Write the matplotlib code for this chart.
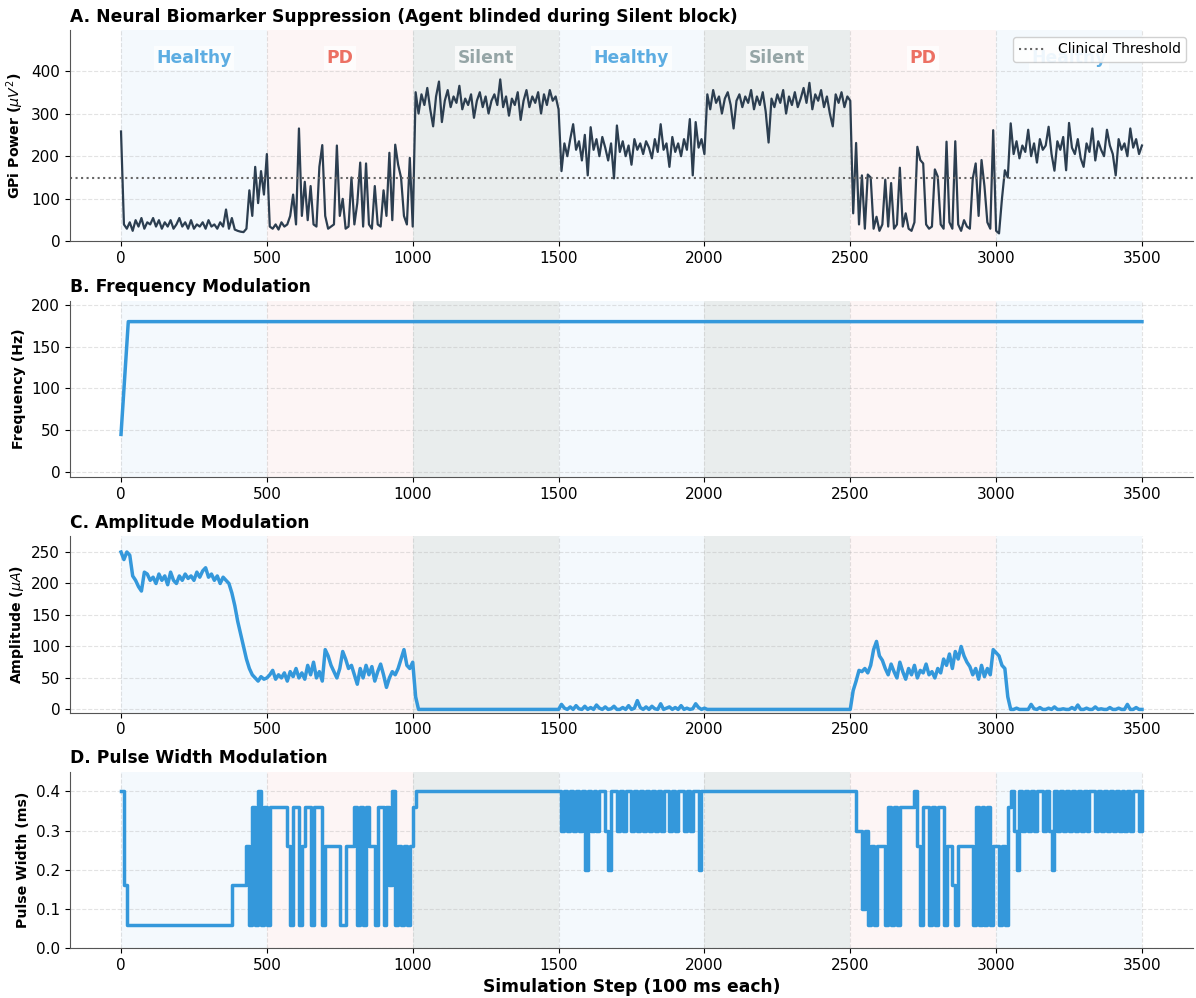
import numpy as np
import matplotlib
matplotlib.use('Agg')
from matplotlib import pyplot as plt

# blocks of the simulation (500 steps each)
block_names = ['Healthy', 'PD', 'Silent', 'Healthy', 'Silent', 'PD', 'Healthy']
block_edges = [0, 500, 1000, 1500, 2000, 2500, 3000, 3500]

# GPi power, read every 10 steps
gpi_b0 = [258, 40, 30, 45, 25, 50, 35, 55, 30, 45, 40, 55, 35, 50, 30, 45, 35, 50, 30, 40,
          55, 35, 45, 30, 50, 30, 40, 35, 45, 30, 50, 35, 40, 30, 45, 35, 75, 30, 55, 28,
          25, 23, 22, 30, 120, 60, 175, 90, 165, 110, 205]
gpi_b1 = [35, 30, 40, 28, 45, 35, 40, 60, 110, 40, 265, 60, 140, 50, 130, 40, 35, 175, 226, 60,
          30, 35, 40, 225, 60, 100, 30, 35, 150, 40, 90, 185, 35, 183, 40, 30, 130, 40, 35, 120,
          60, 208, 50, 227, 180, 150, 60, 40, 196, 35]
gpi_b2 = [350, 300, 345, 320, 360, 310, 270, 340, 375, 280, 330, 355, 315, 340, 325, 365, 310, 335, 320, 345,
          290, 330, 350, 315, 340, 300, 330, 345, 320, 380, 315, 340, 295, 335, 320, 350, 285, 330, 355, 315,
          340, 325, 350, 300, 345, 320, 355, 330, 340, 310]
gpi_b3 = [165, 230, 200, 240, 275, 215, 235, 190, 250, 155, 268, 215, 240, 200, 245, 220, 190, 230, 148, 272,
          210, 235, 200, 225, 180, 240, 215, 230, 205, 235, 220, 195, 240, 210, 275, 215, 230, 175, 245, 210,
          230, 200, 240, 215, 287, 155, 280, 220, 240, 205]
gpi_b4 = [345, 310, 355, 325, 340, 300, 335, 350, 320, 265, 330, 345, 315, 340, 325, 355, 310, 340, 320, 350,
          305, 232, 335, 315, 345, 325, 355, 300, 340, 320, 350, 315, 335, 360, 325, 372, 310, 345, 330, 355,
          315, 340, 300, 270, 345, 325, 350, 315, 340, 330]
gpi_b5 = [66, 231, 40, 155, 30, 157, 150, 30, 58, 25, 40, 145, 35, 137, 30, 40, 173, 35, 66, 30,
          25, 45, 222, 191, 183, 40, 30, 35, 169, 152, 40, 30, 234, 45, 30, 235, 40, 25, 50, 35,
          30, 148, 183, 60, 191, 130, 45, 30, 261, 25]
gpi_b6 = [19, 100, 167, 150, 277, 205, 235, 195, 225, 210, 262, 200, 230, 185, 240, 215, 225, 269, 205, 166,
          235, 215, 245, 167, 278, 220, 205, 240, 195, 175, 230, 210, 265, 190, 235, 215, 200, 262, 225, 205,
          155, 240, 215, 230, 200, 265, 220, 240, 205, 225]
gpi_power = gpi_b0 + gpi_b1 + gpi_b2 + gpi_b3 + gpi_b4 + gpi_b5 + gpi_b6
threshold = 150

# frequency (Hz)
freq_steps = [0, 25, 3500]
freq_hz = [45, 180, 180]

# amplitude (uA), every 10 steps
amp_b0 = [250, 238, 250, 245, 212, 205, 195, 188, 218, 215, 205, 210, 200, 215, 205, 212, 198, 218, 205, 200,
          212, 205, 215, 208, 212, 205, 218, 210, 220, 225, 210, 215, 205, 212, 200, 210, 205, 200, 185, 165,
          140, 120, 100, 80, 65, 55, 50, 45, 52, 48, 50]
amp_b1 = [55, 62, 48, 55, 50, 58, 45, 60, 52, 65, 50, 58, 48, 70, 55, 75, 50, 60, 45, 95,
          85, 70, 60, 50, 65, 92, 80, 65, 70, 55, 40, 65, 50, 70, 55, 68, 45, 60, 72, 55,
          35, 50, 60, 55, 65, 80, 95, 70, 65, 75]
amp_b2 = [20] + [0] * 49
amp_b3 = [8, 2, 0, 4, 0, 6, 1, 0, 5, 0, 3, 0, 7, 2, 0, 4, 0, 1, 5, 0,
          0, 3, 0, 6, 0, 2, 14, 3, 0, 4, 0, 5, 1, 0, 9, 0, 2, 4, 0, 3,
          0, 6, 0, 2, 0, 1, 9, 3, 0, 2]
amp_b4 = [0] * 50
amp_b5 = [30, 45, 62, 60, 65, 58, 70, 95, 108, 85, 78, 65, 55, 72, 60, 50, 75, 60, 48, 65,
          55, 70, 50, 62, 58, 72, 55, 60, 50, 65, 58, 80, 70, 88, 65, 92, 80, 100, 85, 75,
          68, 55, 65, 48, 70, 52, 65, 55, 95, 90]
amp_b6 = [85, 70, 65, 20, 0, 0, 2, 0, 0, 0, 0, 8, 1, 0, 3, 0, 0, 2, 0, 4,
          0, 0, 1, 0, 0, 3, 0, 7, 0, 0, 2, 0, 0, 4, 0, 1, 0, 0, 3, 0,
          0, 2, 0, 0, 8, 0, 0, 3, 0, 0]
amplitude = amp_b0 + amp_b1 + amp_b2 + amp_b3 + amp_b4 + amp_b5 + amp_b6

# pulse width (ms), every 10 steps
pw_b0 = [0.40, 0.16] + [0.06] * 36 + [0.16] * 5 + [0.26, 0.06, 0.36, 0.06, 0.40, 0.06, 0.36, 0.06]
pw_b1 = [0.36, 0.36, 0.36, 0.36, 0.36, 0.36, 0.26, 0.06, 0.36, 0.36, 0.06, 0.26, 0.36, 0.36, 0.06, 0.36, 0.36, 0.36, 0.06, 0.26,
         0.26, 0.26, 0.26, 0.26, 0.06, 0.06, 0.26, 0.26, 0.26, 0.36, 0.06, 0.36, 0.06, 0.36, 0.26, 0.26, 0.06, 0.36, 0.36, 0.06,
         0.36, 0.16, 0.40, 0.06, 0.26, 0.06, 0.26, 0.06, 0.26, 0.36]
pw_b2 = [0.40] * 50
pw_b3 = [0.3, 0.4, 0.3, 0.4, 0.3, 0.4, 0.3, 0.4, 0.2, 0.4, 0.3, 0.4, 0.3, 0.4, 0.4, 0.3, 0.2, 0.4, 0.4, 0.3,
         0.4, 0.3, 0.4, 0.4, 0.3, 0.4, 0.3, 0.4, 0.3, 0.4, 0.3, 0.4, 0.3, 0.4, 0.3, 0.4, 0.4, 0.3, 0.4, 0.3,
         0.4, 0.4, 0.3, 0.4, 0.3, 0.4, 0.4, 0.2, 0.4, 0.4]
pw_b4 = [0.40] * 50
pw_b5 = [0.4, 0.3, 0.3, 0.1, 0.3, 0.06, 0.26, 0.06, 0.26, 0.26, 0.26, 0.06, 0.36, 0.06, 0.36, 0.06, 0.36, 0.36, 0.36, 0.36,
         0.36, 0.4, 0.26, 0.06, 0.36, 0.36, 0.06, 0.36, 0.06, 0.36, 0.36, 0.06, 0.26, 0.26, 0.16, 0.06, 0.26, 0.26, 0.26, 0.26,
         0.26, 0.06, 0.36, 0.06, 0.36, 0.06, 0.36, 0.06, 0.26, 0.26]
pw_b6 = [0.06, 0.26, 0.06, 0.36, 0.4, 0.3, 0.2, 0.4, 0.3, 0.4, 0.3, 0.4, 0.3, 0.4, 0.4, 0.3, 0.4, 0.3, 0.2, 0.4,
         0.3, 0.4, 0.3, 0.4, 0.3, 0.4, 0.3, 0.4, 0.3, 0.4, 0.3, 0.4, 0.4, 0.3, 0.4, 0.3, 0.4, 0.3, 0.4, 0.3,
         0.4, 0.3, 0.4, 0.3, 0.4, 0.3, 0.4, 0.4, 0.3, 0.4]
pulse_width = pw_b0 + pw_b1 + pw_b2 + pw_b3 + pw_b4 + pw_b5 + pw_b6

steps = np.arange(len(gpi_power)) * 10

shade = {'Healthy': ('#3498db', 0.05), 'PD': ('#e74c3c', 0.05), 'Silent': ('#95a5a6', 0.2)}
label_col = {'Healthy': '#5dade2', 'PD': '#ec7063', 'Silent': '#95a5a6'}

fig = plt.figure(figsize=(11.96, 9.98), dpi=100)
gs = fig.add_gridspec(4, 1, height_ratios=[1.2, 1, 1, 1], hspace=0.32,
                      left=0.0585, right=0.9975, top=0.97, bottom=0.05)
axes = [fig.add_subplot(gs[i]) for i in range(4)]

for ax in axes:
    for name, a, b in zip(block_names, block_edges[:-1], block_edges[1:]):
        c, al = shade[name]
        ax.axvspan(a, b, color=c, alpha=al, lw=0, zorder=0)
    ax.grid(True, linestyle='--', alpha=0.35)
    ax.spines['top'].set_visible(False)
    ax.spines['right'].set_visible(False)
    ax.spines['left'].set_color('#555555')
    ax.spines['bottom'].set_color('#555555')
    ax.tick_params(labelsize=11)
    ax.set_xlim(-175, 3675)
    ax.set_xticks(range(0, 3501, 500))

# A. biomarker
ax = axes[0]
ax.plot(steps, gpi_power, color='#2c3e50', lw=1.6)
ax.axhline(threshold, color='#666666', ls=':', lw=1.5, label='Clinical Threshold')
for name, a, b in zip(block_names, block_edges[:-1], block_edges[1:]):
    ax.text((a + b) / 2, 430, name, ha='center', va='center', fontsize=12.3, fontweight='bold',
            color=label_col[name], bbox=dict(facecolor='white', edgecolor='none', alpha=0.7, pad=2))
ax.set_ylim(0, 496)
ax.set_yticks([0, 100, 200, 300, 400])
ax.set_ylabel(r'GPi Power ($\mu V^2$)', fontsize=10.2, fontweight='bold')
ax.set_title('A. Neural Biomarker Suppression (Agent blinded during Silent block)',
             loc='left', fontsize=12.3, fontweight='bold')
ax.legend(loc='upper right', fontsize=10, framealpha=0.9)

# B. frequency
ax = axes[1]
ax.plot(freq_steps, freq_hz, color='#3498db', lw=2.5)
ax.set_ylim(-6, 205)
ax.set_yticks([0, 50, 100, 150, 200])
ax.set_ylabel('Frequency (Hz)', fontsize=10.2, fontweight='bold')
ax.set_title('B. Frequency Modulation', loc='left', fontsize=12.3, fontweight='bold')

# C. amplitude
ax = axes[2]
ax.plot(steps, amplitude, color='#3498db', lw=2.5)
ax.set_ylim(-5, 275)
ax.set_yticks([0, 50, 100, 150, 200, 250])
ax.set_ylabel(r'Amplitude ($\mu A$)', fontsize=10.2, fontweight='bold')
ax.set_title('C. Amplitude Modulation', loc='left', fontsize=12.3, fontweight='bold')

# D. pulse width
ax = axes[3]
ax.plot(steps, pulse_width, color='#3498db', lw=2.5, drawstyle='steps-post')
ax.set_ylim(0, 0.45)
ax.set_yticks([0.0, 0.1, 0.2, 0.3, 0.4])
ax.set_ylabel('Pulse Width (ms)', fontsize=10.2, fontweight='bold')
ax.set_title('D. Pulse Width Modulation', loc='left', fontsize=12.3, fontweight='bold')
ax.set_xlabel('Simulation Step (100 ms each)', fontsize=12.3, fontweight='bold')

plt.savefig('out.png', dpi=100)
